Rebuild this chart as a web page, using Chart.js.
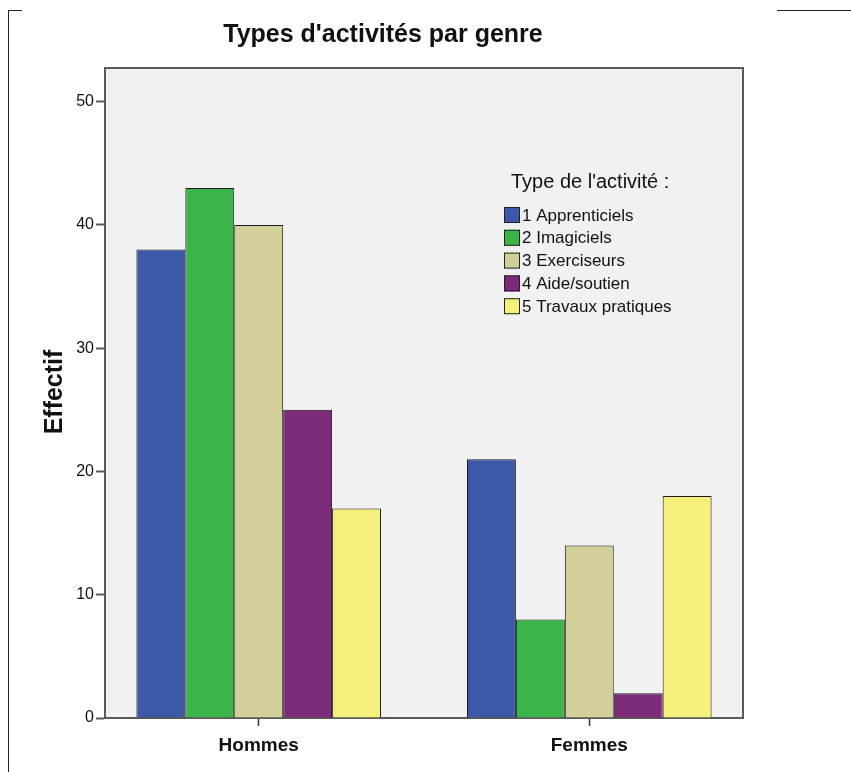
<!DOCTYPE html>
<html>
<head>
<meta charset="utf-8">
<script src="https://cdn.jsdelivr.net/npm/chart.js@4/dist/chart.umd.min.js"></script>
<style>
  html,body{margin:0;padding:0;background:#fff;}
  #wrap{position:relative;width:851px;height:772px;}
  .ln{position:absolute;background:#222;}
</style>
</head>
<body>
<div id="wrap">
  <canvas id="c" width="851" height="772"></canvas>
  <div class="ln" style="left:8px;top:10px;width:1px;height:762px"></div>
  <div class="ln" style="left:8px;top:10px;width:14px;height:1px"></div>
  <div class="ln" style="left:777px;top:10px;width:74px;height:1px"></div>
</div>
<script>
// Types d'activités par genre — effectifs
const genres = ["Hommes", "Femmes"];
const typesActivite = ["1 Apprenticiels", "2 Imagiciels", "3 Exerciseurs", "4 Aide/soutien", "5 Travaux pratiques"];
const apprenticiels    = [38, 21];
const imagiciels       = [43, 8];
const exerciseurs      = [40, 14];
const aideSoutien      = [25, 2];
const travauxPratiques = [17, 18];
const yTicks = [0, 10, 20, 30, 40, 50];

const couleurs = ["#3E58A8", "#3BB54A", "#D3CF98", "#7D2A7A", "#F5EF7C"];
const series = [apprenticiels, imagiciels, exerciseurs, aideSoutien, travauxPratiques];
const FONT = "'Liberation Sans',Arial,sans-serif";

const decor = {
  id:"decor",
  beforeDraw(chart){
    const {ctx, chartArea:a} = chart;
    ctx.save();
    ctx.fillStyle = "#F0F1F0";
    ctx.fillRect(a.left, a.top, a.right-a.left, a.bottom-a.top);
    ctx.restore();
  },
  afterDraw(chart){
    const {ctx, chartArea:a} = chart;
    ctx.save();
    // cadre haut / droite
    ctx.strokeStyle = "#5A5A5A"; ctx.lineWidth = 2;
    ctx.beginPath();
    ctx.moveTo(a.left, a.top); ctx.lineTo(a.right, a.top); ctx.lineTo(a.right, a.bottom);
    ctx.stroke();
    // titre
    ctx.fillStyle = "#111";
    ctx.font = "bold 25px " + FONT;
    ctx.textAlign = "center"; ctx.textBaseline = "middle";
    ctx.fillText("Types d'activités par genre", 383, 35);
    // titre axe Y
    ctx.save();
    ctx.translate(55, 392); ctx.rotate(-Math.PI/2);
    ctx.font = "bold 25px " + FONT;
    ctx.fillText("Effectif", 0, 0);
    ctx.restore();
    // légende
    ctx.textAlign = "left";
    ctx.font = "20px " + FONT;
    ctx.fillText("Type de l'activité :", 511, 182);
    ctx.font = "17px " + FONT;
    chart.data.datasets.forEach((ds, i) => {
      const y = 215 + i*22.8;
      ctx.fillStyle = ds.backgroundColor;
      ctx.fillRect(504, y-8, 16, 16);
      ctx.strokeStyle = "#222"; ctx.lineWidth = 1;
      ctx.strokeRect(504.5, y-7.5, 15, 15);
      ctx.fillStyle = "#111";
      ctx.fillText(ds.label, 522, y+1);
    });
    ctx.restore();
  }
};

new Chart(document.getElementById("c"), {
  type:"bar",
  data:{
    datasets: typesActivite.map((t, i) => ({
      label:t,
      data: series[i].map((v, g) => ({x:g+1, y:v})),
      backgroundColor:couleurs[i],
      borderColor:"#1A1A1A", borderWidth:1,
      categoryPercentage:0.74, barPercentage:1,
    })),
  },
  options:{
    responsive:false, animation:false,
    layout:{padding:{top:68, right:108, bottom:0, left:0}},
    plugins:{legend:{display:false}, title:{display:false}, tooltip:{enabled:false}},
    scales:{
      x:{
        type:"linear", min:0.535, max:2.465, offset:false,
        afterBuildTicks:s => { s.ticks = genres.map((g, i) => ({value:i+1})); },
        afterFit:s => { s.height = 54; },
        ticks:{callback:v => genres[v-1], color:"#111", padding:8, maxRotation:0,
               font:{family:FONT, size:19, weight:"bold"}},
        grid:{drawOnChartArea:false, offset:false, tickLength:8, tickColor:"#333", tickWidth:1.5},
        border:{color:"#5A5A5A", width:2},
      },
      y:{
        min:0, max:52.73,
        afterBuildTicks:s => { s.ticks = yTicks.map(v => ({value:v})); },
        afterFit:s => { s.width = 105; },
        ticks:{color:"#111", padding:2, font:{family:FONT, size:16}},
        grid:{drawOnChartArea:false, tickLength:9, tickColor:"#5A5A5A", tickWidth:2},
        border:{color:"#5A5A5A", width:2},
      },
    },
  },
  plugins:[decor],
});
</script>
</body>
</html>
